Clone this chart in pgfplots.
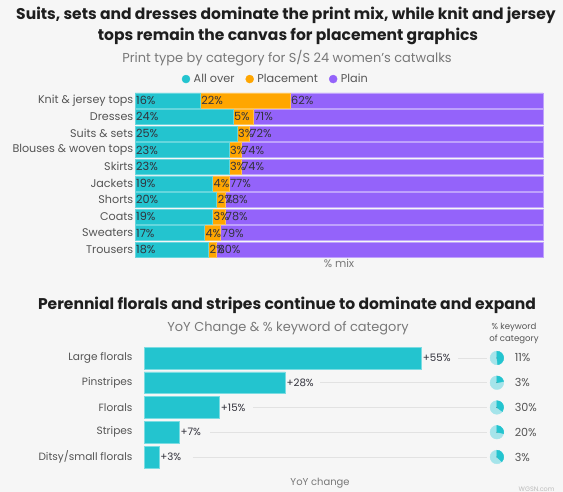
\documentclass[border=0pt]{standalone}
\usepackage{pgfplots}
\pgfplotsset{compat=1.18}
\usepackage{pgfplotstable}
\usepackage{fontspec}
\setmainfont{Poppins}
\definecolor{bg}{RGB}{246,246,246}
\definecolor{allover}{RGB}{35,196,207}
\definecolor{placement}{RGB}{255,166,0}
\definecolor{plain}{RGB}{148,99,250}
\definecolor{titlec}{RGB}{30,30,30}
\definecolor{subc}{RGB}{120,120,120}
\definecolor{tickc}{RGB}{85,85,85}
\definecolor{labc}{RGB}{50,50,60}
\definecolor{pielight}{RGB}{165,228,234}
\definecolor{linec}{RGB}{226,226,226}

\pgfplotstableread{
y a p l
9 16 22 62
8 24 5 71
7 25 3 72
6 23 3 74
5 23 3 74
4 19 4 77
3 20 2 78
2 19 3 78
1 17 4 79
0 18 2 80
}\topdata

\pgfplotstableread{
y v lab
4 55 +55
3 28 +28
2 15 +15
1 7 +7
0 3 +3
}\yoydata

\pgfplotstableread{
y w p
4 48 11
3 22 3
2 35 30
1 28 20
0 37 3
}\piedata

\newcommand{\fs}[1]{\fontsize{#1}{#1}\selectfont}

\begin{document}
\begin{tikzpicture}
\fill[bg] (0,0) rectangle (563bp,492bp);
\useasboundingbox (0,0) rectangle (563bp,492bp);

% titles
\node[font=\fs{15.6}\bfseries, text=titlec] at (286bp,477bp) {Suits, sets and dresses dominate the print mix, while knit and jersey};
\node[font=\fs{15.6}\bfseries, text=titlec] at (288bp,456bp) {tops remain the canvas for placement graphics};
\node[font=\fs{13}, text=subc] at (287bp,434bp) {Print type by category for S/S 24 women's catwalks};

% top chart
\begin{axis}[
  at={(135bp,234bp)}, anchor=south west,
  scale only axis, width=408bp, height=166bp,
  xbar stacked, bar width=0.9,
  xmin=0, xmax=100, ymin=-0.5, ymax=9.5,
  ytick={0,...,9},
  yticklabels={Trousers,Sweaters,Coats,Shorts,Jackets,Skirts,Blouses \& woven tops,Suits \& sets,Dresses,Knit \& jersey tops},
  xtick=\empty,
  axis line style={draw=none}, major tick length=0pt,
  yticklabel style={font=\fs{11.2}, text=tickc, inner sep=1.5bp},
  xlabel={\% mix},
  xlabel style={font=\fs{11}, text=subc, yshift=2bp},
  legend columns=3,
  legend style={at={(0.345,1.078)}, anchor=center, draw=none, fill=none,
    font=\fs{11.3}, text=tickc, inner sep=0pt,
    /tikz/every even column/.append style={column sep=9bp},
    /tikz/every odd column/.append style={column sep=1.5bp}},
  clip=false,
]
\addplot[fill=allover, draw=allover!70!white, line width=0.4bp,
  legend image code/.code={\fill[allover] (0.1bp,0bp) circle (4bp);}]
  table[x=a, y=y] {\topdata};
\addplot[fill=placement, draw=placement!70!white, line width=0.4bp,
  legend image code/.code={\fill[placement] (0.1bp,0bp) circle (4bp);}]
  table[x=p, y=y] {\topdata};
\addplot[fill=plain, draw=plain!60!white, line width=0.4bp,
  legend image code/.code={\fill[plain] (0.1bp,0bp) circle (4bp);}]
  table[x=l, y=y] {\topdata};
\legend{All over,Placement,Plain}
\end{axis}

% top value labels
\begin{axis}[
  at={(135bp,234bp)}, anchor=south west,
  scale only axis, width=408bp, height=166bp,
  xmin=0, xmax=100, ymin=-0.5, ymax=9.5,
  hide axis, clip=false,
  every node near coord/.style={anchor=west, font=\fs{11.3}, text=labc, inner sep=1bp},
]
\addplot[only marks, mark=*, mark size=0pt, point meta=explicit symbolic,
  nodes near coords={\pgfplotspointmeta\%}]
  table[x expr=0, y=y, meta=a] {\topdata};
\addplot[only marks, mark=*, mark size=0pt, point meta=explicit symbolic,
  nodes near coords={\pgfplotspointmeta\%}]
  table[x expr=\thisrow{a}, y=y, meta=p] {\topdata};
\addplot[only marks, mark=*, mark size=0pt, point meta=explicit symbolic,
  nodes near coords={\pgfplotspointmeta\%}]
  table[x expr=\thisrow{a}+\thisrow{p}, y=y, meta=l] {\topdata};
\end{axis}

% bottom titles
\node[font=\fs{15.6}\bfseries, text=titlec] at (287bp,187bp) {Perennial florals and stripes continue to dominate and expand};
\node[font=\fs{13}, text=subc] at (288bp,164bp) {YoY Change \& \% keyword of category};
\node[font=\fs{8.6}, text=tickc, align=center, inner sep=0pt] at (514bp,158.5bp) {\% keyword\\[1.5bp]of category};

% bottom chart
\begin{axis}[
  at={(144bp,22.6bp)}, anchor=south west,
  scale only axis, width=416bp, height=123.8bp,
  xmin=0, xmax=82.4, ymin=-0.5, ymax=4.5,
  ytick={0,...,4},
  yticklabels={Ditsy/small florals,Stripes,Florals,Pinstripes,Large florals},
  xtick=\empty,
  axis line style={draw=none}, major tick length=0pt,
  yticklabel style={font=\fs{10.6}, text=tickc, xshift=-8bp},
  clip=false,
]
\addplot[linec, line width=0.8bp, forget plot] coordinates {(62.2,4) (67.9,4)};
\addplot[linec, line width=0.8bp, forget plot] coordinates {(34.9,3) (67.9,3)};
\addplot[linec, line width=0.8bp, forget plot] coordinates {(21.6,2) (67.9,2)};
\addplot[linec, line width=0.8bp, forget plot] coordinates {(13.1,1) (67.9,1)};
\addplot[linec, line width=0.8bp, forget plot] coordinates {(9.7,0) (67.9,0)};
\addplot[xbar, bar width=0.88, fill=allover, draw=allover!60!white, line width=0.5bp,
  point meta=explicit symbolic, nodes near coords={\pgfplotspointmeta\%},
  every node near coord/.style={anchor=west, font=\fs{10.3}, text=labc, inner sep=1bp}]
  table[x=v, y=y, meta=lab] {\yoydata};
\addplot[scatter, only marks, mark=*, mark size=0.01pt,
  mark options={fill=none, draw=none},
  scatter/use mapped color={draw=none, fill=none},
  point meta=explicit,
  visualization depends on={\thisrow{w} \as \wfrac},
  scatter/@pre marker code/.code={%
    \fill[pielight] (0bp,0bp) circle[radius=6.8bp];
    \fill[allover] (0bp,0bp) -- (0bp,6.8bp) arc[start angle=90, end angle={90-3.6*\wfrac}, radius=6.8bp] -- cycle;},
  scatter/@post marker code/.code={},
  ]
  table[x expr=69.9, y=y, meta=p] {\piedata};
\addplot[only marks, mark=*, mark size=0pt, point meta=explicit symbolic,
  nodes near coords={\pgfplotspointmeta\%},
  every node near coord/.style={anchor=west, font=\fs{11.2}, text=tickc, inner sep=0pt}]
  table[x expr=73.4, y=y, meta=p] {\piedata};
\end{axis}

\node[font=\fs{10}, text=subc] at (320bp,9bp) {YoY change};
\node[font=\fs{6.5}, text=subc!50!white, anchor=south west, inner sep=0.5pt] at (518bp,0bp) {WGSN.com};
\end{tikzpicture}
\end{document}
